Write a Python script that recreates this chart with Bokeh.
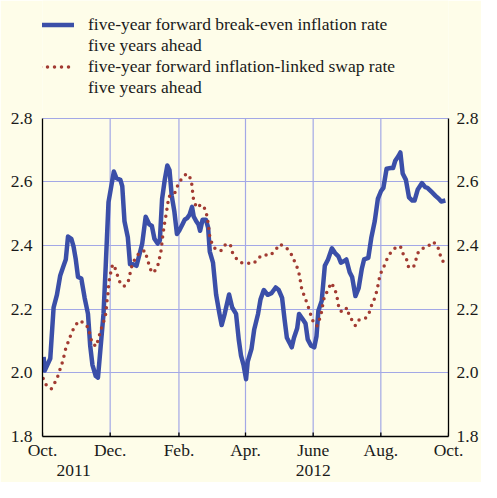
from bokeh.plotting import figure
from bokeh.models import (Range1d, FixedTicker, NumeralTickFormatter, LinearAxis,
                          Legend, LegendItem)
from bokeh.embed import file_html
from bokeh.resources import INLINE

# x = days since 1 Oct 2011
be_days = [1, 2, 7, 10, 13, 16, 19, 21, 23, 26, 28, 30, 32, 35, 38, 41, 43, 45, 48, 50,
           52, 55, 57, 59.5, 61.5, 64.3, 66.7, 70.2, 71.9, 73.9, 76.9, 78.9, 81.7, 84.7, 87,
           89.9, 93, 96.3, 98.6, 100.9, 103.8, 105.8, 107.8, 110.2, 112.5, 114.5, 116.5,
           118.9, 121.2, 123.2, 126.1, 128.2, 130.4, 132.5, 134.8, 136.3, 138.6, 140.6,
           142.1, 144.3, 147.3, 149.3, 150.8, 153.7, 156.5, 159.5, 161.5, 164.3, 168.2, 171,
           174.5, 176.9, 178.9, 181.2, 183.5, 185, 188.4, 190.8, 194.3, 196.5, 199.5, 203,
           206.4, 210.2, 213, 216, 218.3, 220.3, 222.6, 224.7, 226.7, 229.6, 231.3, 234.3,
           237.1, 239.1, 242.1, 245, 247, 248.7, 251.7, 254.5, 257.4, 260.9, 263.8, 266.7,
           269, 271.9, 273.9, 276.9, 279.1, 282.1, 285, 287.8, 289.9, 293.7, 296.5, 299.5,
           302.3, 305.2, 307.3, 310.2, 313.9, 316, 318, 320.9, 322.6, 324.7, 327.6, 330.4,
           333.4, 335.4, 338.3, 342.1, 345, 347, 350.8, 354.3, 357.4, 359.5, 363.2]
be_vals = [2.050, 2.007, 2.045, 2.205, 2.245, 2.306, 2.336, 2.356, 2.428, 2.421, 2.396,
           2.356, 2.301, 2.296, 2.235, 2.185, 2.085, 2.025, 1.990, 1.985, 2.065, 2.185,
           2.336, 2.536, 2.576, 2.632, 2.611, 2.606, 2.586, 2.476, 2.426, 2.341, 2.341,
           2.336, 2.366, 2.406, 2.490, 2.466, 2.461, 2.421, 2.406, 2.416, 2.546, 2.606,
           2.651, 2.636, 2.556, 2.506, 2.436, 2.446, 2.466, 2.481, 2.486, 2.496, 2.521,
           2.491, 2.476, 2.466, 2.446, 2.481, 2.481, 2.456, 2.381, 2.346, 2.246, 2.186,
           2.150, 2.186, 2.246, 2.205, 2.185, 2.105, 2.055, 2.025, 1.980, 2.035, 2.075,
           2.135, 2.185, 2.230, 2.260, 2.245, 2.250, 2.268, 2.260, 2.235, 2.165, 2.110,
           2.095, 2.080, 2.110, 2.140, 2.185, 2.170, 2.155, 2.105, 2.085, 2.080, 2.115,
           2.195, 2.226, 2.336, 2.356, 2.391, 2.376, 2.366, 2.346, 2.351, 2.356, 2.316,
           2.301, 2.241, 2.266, 2.326, 2.356, 2.361, 2.426, 2.476, 2.546, 2.571, 2.581,
           2.641, 2.643, 2.643, 2.666, 2.681, 2.692, 2.626, 2.606, 2.551, 2.541, 2.541,
           2.576, 2.596, 2.583, 2.581, 2.568, 2.556, 2.546, 2.538, 2.541]

sw_days = [0.6, 3, 7.8, 11, 13.9, 16, 18.3, 21.2, 23.8, 26.1, 29, 32.8, 37.7, 41.5, 43, 45,
           48.4, 50.2, 52.2, 54.3, 56.5, 57.4, 58, 58.9, 59.5, 60.3, 61.7, 63.2, 65.2, 67.3,
           69.6, 73.4, 77.4, 79.1, 80.6, 83.5, 87.6, 92.2, 94.3, 96.3, 98.6, 101.5, 104.3,
           105.8, 107.3, 107.8, 108.7, 109.6, 110.8, 111.9, 113, 113.7, 117.7, 120.3, 122.3,
           126.4, 129.9, 133.4, 134.8, 135.4, 136.3, 139.1, 143, 147, 148.4, 149.6, 150.2,
           151.3, 154.3, 156.5, 161.2, 165.2, 169.3, 171, 174.8, 179.1, 185.6, 190.4, 194.8,
           199.1, 205.2, 210.2, 213.9, 219.5, 223.8, 226.7, 229.3, 231.3, 232.5, 233.7, 236,
           238.3, 240.6, 242.6, 245.2, 247.6, 249.9, 251.7, 252.8, 254.3, 257.4, 260, 263,
           265.2, 266.4, 267.6, 271.3, 274.5, 276.3, 279.1, 282.1, 285.6, 291.9, 295.1,
           297.1, 300, 301.5, 303, 304.3, 307.3, 309.6, 313, 317.4, 322.6, 324.7, 328.2,
           329.9, 334.3, 336.5, 338.3, 342.3, 347, 351.3, 355.7, 357.7, 359.5, 363.2]
sw_vals = [1.982, 1.963, 1.949, 1.968, 1.990, 2.013, 2.037, 2.080, 2.102, 2.125, 2.145,
           2.163, 2.157, 2.140, 2.115, 2.092, 2.083, 2.105, 2.130, 2.153, 2.173, 2.197,
           2.223, 2.245, 2.271, 2.294, 2.318, 2.341, 2.331, 2.309, 2.286, 2.271, 2.289,
           2.314, 2.336, 2.359, 2.378, 2.384, 2.360, 2.336, 2.314, 2.321, 2.341, 2.366,
           2.391, 2.416, 2.436, 2.461, 2.484, 2.508, 2.532, 2.554, 2.558, 2.571, 2.594,
           2.614, 2.626, 2.611, 2.588, 2.564, 2.540, 2.518, 2.529, 2.513, 2.489, 2.464,
           2.441, 2.419, 2.396, 2.386, 2.384, 2.404, 2.403, 2.379, 2.359, 2.346, 2.344,
           2.343, 2.361, 2.371, 2.368, 2.386, 2.404, 2.394, 2.376, 2.354, 2.334, 2.311,
           2.288, 2.263, 2.241, 2.220, 2.197, 2.173, 2.151, 2.148, 2.170, 2.193, 2.218,
           2.242, 2.259, 2.283, 2.268, 2.244, 2.220, 2.196, 2.191, 2.205, 2.182, 2.165,
           2.148, 2.167, 2.173, 2.193, 2.217, 2.238, 2.260, 2.284, 2.309, 2.329, 2.351,
           2.373, 2.391, 2.398, 2.376, 2.356, 2.333, 2.330, 2.353, 2.376, 2.391, 2.394,
           2.411, 2.403, 2.381, 2.358, 2.339]

month_ticks = [0, 61, 123, 183, 244, 305, 366]
month_labels = ["Oct.", "Dec.", "Feb.", "Apr.", "June", "Aug.", "Oct."]
grid_months = [61, 123, 183, 244, 305]
y_ticks = [1.8, 2.0, 2.2, 2.4, 2.6, 2.8]
y_lo, y_hi = 1.8, 2.8
years = ["2011", "2012"]
year_pos = [28, 244]
legend_text = ["five-year forward break-even inflation rate", "five years ahead",
               "five-year forward inflation-linked swap rate", "five years ahead"]

BG = "#FEFDE9"
BLUE = "#3B4FA8"
RED = "#A23B32"
GRID = "#A3A8E6"
TXT = "#1a1a1a"
FONT = "Liberation Serif"
FS = "17.5px"

W, H = 481, 482
BL, BR, BT, BB = 42, 32, 0, 43
FRAME_H = H - BT - BB
TOP_PX = 118.4                      # space above the 2.8 line used by the key
y_top = y_hi + TOP_PX / (FRAME_H - TOP_PX) * (y_hi - y_lo)

p = figure(width=W, height=H, output_backend="svg", toolbar_location=None, title=None,
           x_range=Range1d(0, 366), y_range=Range1d(y_lo, y_top),
           min_border_left=BL, min_border_right=BR, min_border_top=BT, min_border_bottom=BB,
           background_fill_color=BG, border_fill_color=BG, outline_line_color=None)

# x axis: month labels, year on a second line
tick_labels = {t: l for t, l in zip(month_ticks, month_labels)}
tick_labels[year_pos[0]] = " \n" + years[0]
tick_labels[year_pos[1]] = tick_labels[year_pos[1]] + "\n" + years[1]
xa = p.xaxis[0]
xa.ticker = FixedTicker(ticks=sorted(set(month_ticks + year_pos)))
xa.major_label_overrides = tick_labels
xa.major_label_standoff = 3
xa.major_label_text_line_height = 1.0

ya = p.yaxis[0]
ya.ticker = FixedTicker(ticks=y_ticks)
ya.formatter = NumeralTickFormatter(format="0.0")
ya.bounds = (y_lo, y_hi)
ya.major_label_standoff = 10

right = LinearAxis(ticker=FixedTicker(ticks=y_ticks), formatter=NumeralTickFormatter(format="0.0"),
                   bounds=(y_lo, y_hi))
p.add_layout(right, "right")
right.major_label_standoff = 8

for ax in [xa, ya, right]:
    ax.axis_line_color = "black"
    ax.axis_line_width = 1.3
    ax.major_label_text_font = FONT
    ax.major_label_text_font_size = FS
    ax.major_label_text_color = TXT
    ax.minor_tick_line_color = None
    ax.major_tick_line_color = None
    ax.major_tick_in = 0
    ax.major_tick_out = 0

p.xgrid.grid_line_color = None
p.ygrid.ticker = FixedTicker(ticks=y_ticks)
p.ygrid.grid_line_color = GRID
p.ygrid.grid_line_width = 1.2

# vertical grid lines (only within the 1.8-2.8 band) and small inward ticks
p.segment(x0=grid_months, y0=[y_lo] * len(grid_months), x1=grid_months,
          y1=[y_hi] * len(grid_months), line_color=GRID, line_width=1.2, level="underlay")
tick_len = 4 / (FRAME_H - TOP_PX) * (y_hi - y_lo)
p.segment(x0=month_ticks, y0=[y_lo] * len(month_ticks), x1=month_ticks,
          y1=[y_lo + tick_len] * len(month_ticks), line_color="black", line_width=1.3)

r1 = p.line(be_days, be_vals, line_color=BLUE, line_width=4.5, line_join="round")
r2 = p.line(sw_days, sw_vals, line_color=RED, line_width=3.5, line_dash="0 7", line_cap="round")
d1 = p.line(x=[], y=[], line_alpha=0)
d2 = p.line(x=[], y=[], line_alpha=0)

legend = Legend(items=[LegendItem(label=legend_text[0], renderers=[r1]),
                       LegendItem(label=legend_text[1], renderers=[d1]),
                       LegendItem(label=legend_text[2], renderers=[r2]),
                       LegendItem(label=legend_text[3], renderers=[d2])],
                location=(-2, FRAME_H - 100.5), orientation="vertical",
                glyph_width=34, glyph_height=21, label_standoff=14, spacing=0,
                padding=0, margin=0, background_fill_alpha=0, border_line_color=None,
                label_text_font=FONT, label_text_font_size=FS, label_text_color=TXT,
                label_height=21)
p.add_layout(legend, "center")

open("out.html", "w").write(file_html(p, INLINE))
